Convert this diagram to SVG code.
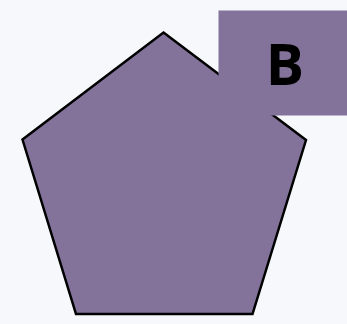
<svg xmlns="http://www.w3.org/2000/svg" width="347" height="324" viewBox="0 0 347 324">
<style>
.shape{fill:#83739b;}
.label{font-family:"Open Sans","DejaVu Sans",sans-serif;font-weight:bold;font-size:57px;fill:#000;}
</style>
<rect width="347" height="324" fill="#f7f8fc"/>
<g id="pentagon">
<polygon class="shape" points="163.5,32.5 306,140 252.5,314 76,314 22.5,139.5" stroke="#000" stroke-width="2.5" stroke-linejoin="miter"/>
</g>
<g id="labelB">
<rect class="shape" x="218.5" y="10.5" width="129" height="105"/>
<text class="label" x="285" y="84.5" text-anchor="middle">B</text>
</g>
</svg>
